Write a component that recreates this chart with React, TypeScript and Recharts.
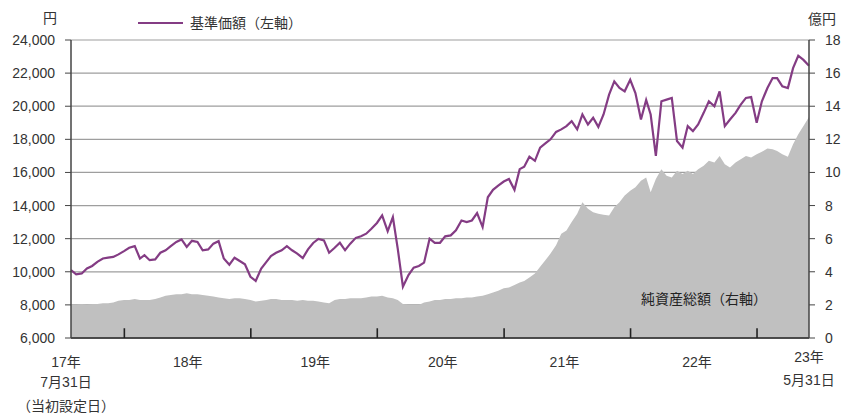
import React from "react";
import { ComposedChart, Line, Area, XAxis, YAxis, CartesianGrid } from "recharts";

const dates = [
  "2017-07-31","2017-08-15","2017-08-31","2017-09-15","2017-09-30","2017-10-15","2017-10-31","2017-11-15","2017-11-30","2017-12-15","2017-12-31",
  "2018-01-15","2018-01-31","2018-02-15","2018-02-28","2018-03-15","2018-03-31","2018-04-15","2018-04-30","2018-05-15","2018-05-31","2018-06-15","2018-06-30",
  "2018-07-15","2018-07-31","2018-08-15","2018-08-31","2018-09-15","2018-09-30","2018-10-15","2018-10-31","2018-11-15","2018-11-30","2018-12-15","2018-12-31",
  "2019-01-15","2019-01-31","2019-02-15","2019-02-28","2019-03-15","2019-03-31","2019-04-15","2019-04-30","2019-05-15","2019-05-31","2019-06-15","2019-06-30",
  "2019-07-15","2019-07-31","2019-08-15","2019-08-31","2019-09-15","2019-09-30","2019-10-15","2019-10-31","2019-11-15","2019-11-30","2019-12-15","2019-12-31",
  "2020-01-15","2020-01-31","2020-02-15","2020-02-29","2020-03-15","2020-03-31","2020-04-15","2020-04-30","2020-05-15","2020-05-31","2020-06-15","2020-06-30",
  "2020-07-15","2020-07-31","2020-08-15","2020-08-31","2020-09-15","2020-09-30","2020-10-15","2020-10-31","2020-11-15","2020-11-30","2020-12-15","2020-12-31",
  "2021-01-15","2021-01-31","2021-02-15","2021-02-28","2021-03-15","2021-03-31","2021-04-15","2021-04-30","2021-05-15","2021-05-31","2021-06-15","2021-06-30",
  "2021-07-15","2021-07-31","2021-08-15","2021-08-31","2021-09-15","2021-09-30","2021-10-15","2021-10-31","2021-11-15","2021-11-30","2021-12-15","2021-12-31",
  "2022-01-15","2022-01-31","2022-02-15","2022-02-28","2022-03-15","2022-03-31","2022-04-15","2022-04-30","2022-05-15","2022-05-31","2022-06-15","2022-06-30",
  "2022-07-15","2022-07-31","2022-08-15","2022-08-31","2022-09-15","2022-09-30","2022-10-15","2022-10-31","2022-11-15","2022-11-30","2022-12-15","2022-12-31",
  "2023-01-15","2023-01-31","2023-02-15","2023-02-28","2023-03-15","2023-03-31","2023-04-15","2023-04-30","2023-05-15","2023-05-31",
];

// 基準価額（円, 左軸）
const basePrice = [
  10100, 9850, 9900, 10200, 10350, 10600, 10800, 10850, 10900, 11050, 11250,
  11450, 11550, 10800, 11000, 10700, 10750, 11150, 11300, 11550, 11800, 11950, 11500,
  11870, 11800, 11300, 11350, 11700, 11850, 10800, 10430, 10850, 10650, 10450, 9700,
  9450, 10200, 10600, 10950, 11150, 11300, 11550, 11300, 11100, 10830, 11350, 11740,
  11980, 11900, 11150, 11450, 11750, 11300, 11700, 12050, 12150, 12300, 12600, 12950,
  13400, 12450, 13300, 11400, 9100, 9800, 10250, 10350, 10550, 12000, 11750, 11750,
  12140, 12200, 12500, 13100, 13000, 13100, 13550, 12700, 14500, 14950, 15200, 15450,
  15600, 14950, 16200, 16350, 16950, 16700, 17500, 17750, 18000, 18450, 18600, 18800,
  19100, 18600, 19500, 18900, 19300, 18750, 19500, 20700, 21500, 21100, 20900, 21600,
  20800, 19200, 20380, 19500, 17000, 20300, 20400, 20500, 17900, 17500, 18800, 18500,
  18900, 19600, 20300, 20000, 20900, 18800, 19200, 19600, 20100, 20500, 20550, 19000,
  20300, 21100, 21700, 21700, 21200, 21100, 22300, 23050, 22800, 22450,
];

// 純資産総額（億円, 右軸）
const netAssets = [
  2.0, 2.0, 2.05, 2.0, 2.05, 2.05, 2.1, 2.1, 2.15, 2.25, 2.3,
  2.3, 2.35, 2.3, 2.3, 2.3, 2.35, 2.45, 2.55, 2.6, 2.65, 2.65, 2.7,
  2.65, 2.65, 2.6, 2.55, 2.5, 2.45, 2.4, 2.35, 2.4, 2.4, 2.35, 2.3,
  2.2, 2.25, 2.3, 2.35, 2.35, 2.3, 2.3, 2.3, 2.25, 2.3, 2.25, 2.25,
  2.2, 2.15, 2.1, 2.3, 2.35, 2.35, 2.4, 2.4, 2.4, 2.45, 2.5, 2.5,
  2.55, 2.45, 2.4, 2.3, 2.05, 2.0, 2.0, 2.0, 2.15, 2.2, 2.3, 2.3,
  2.35, 2.35, 2.4, 2.4, 2.45, 2.45, 2.5, 2.55, 2.65, 2.75, 2.85, 3.0,
  3.05, 3.2, 3.35, 3.45, 3.65, 3.9, 4.3, 4.7, 5.1, 5.6, 6.3, 6.5,
  7.0, 7.5, 8.2, 7.8, 7.6, 7.5, 7.45, 7.4, 7.9, 8.2, 8.6, 8.9,
  9.1, 9.5, 9.7, 8.8, 9.6, 10.2, 9.8, 9.7, 10.1, 9.9, 10.1, 9.9,
  10.2, 10.4, 10.7, 10.6, 11.0, 10.5, 10.3, 10.6, 10.8, 11.0, 10.9, 11.1,
  11.25, 11.45, 11.4, 11.3, 11.1, 10.95, 11.7, 12.3, 12.8, 13.35,
];

const leftTicks = [6000, 8000, 10000, 12000, 14000, 16000, 18000, 20000, 22000, 24000];
const rightTicks = [0, 2, 4, 6, 8, 10, 12, 14, 16, 18];

// year boundaries (tick marks)
const yearBoundaries = ["2018-01-01", "2019-01-01", "2020-01-01", "2021-01-01", "2022-01-01", "2023-01-01"];
// x-axis labels
const xLabelDates = ["2017-07-31", "2018-07-03", "2019-07-06", "2020-07-08", "2021-06-24", "2022-07-12", "2023-05-31"];
const xLabelLines = [
  ["17年", "7月31日", "（当初設定日）"],
  ["18年"],
  ["19年"],
  ["20年"],
  ["21年"],
  ["22年"],
  ["23年", "5月31日"],
];

const seriesNames = { price: "基準価額（左軸）", nav: "純資産総額（右軸）" };

const toT = (s: string) => {
  const [y, m, d] = s.split("-").map(Number);
  return Date.UTC(y, m - 1, d);
};

const leftMin = leftTicks[0];
const leftMax = leftTicks[leftTicks.length - 1];
// inward year tick mark length, as a fraction of the left axis range
const tickMarkLen = (leftMax - leftMin) * 0.033;

const mainRows: any[] = dates.map((d, i) => ({ t: toT(d), price: basePrice[i], nav: netAssets[i] }));
// two rows per year boundary form a short vertical tick on the x axis
const tickRows: any[] = [];
yearBoundaries.forEach((d) => {
  const t = toT(d);
  tickRows.push({ t, tick: leftMin });
  tickRows.push({ t, tick: leftMin + tickMarkLen });
});
const data = [...mainRows, ...tickRows].sort((a, b) => a.t - b.t);

const tStart = toT(dates[0]);
const tEnd = toT(dates[dates.length - 1]);
const labelTs = xLabelDates.map(toT);

const FONT = "'Liberation Sans', 'Noto Sans CJK JP', Arial, sans-serif";
const TEXT = "#333";
const PURPLE = "#843c84";
const GRAY = "#c0c0c0";

const XTick = (props: any) => {
  const { x, y, payload } = props;
  const v = payload.value;
  const li = labelTs.indexOf(v);
  if (li < 0) return <g />;
  const lines = xLabelLines[li];
  const isStart = li === 0;
  const isEnd = li === xLabelLines.length - 1;
  const cx = isStart ? x - 5 : x;
  const dys = isEnd ? [24, 23] : isStart ? [29, 20, 24] : [29];
  return (
    <text x={cx} y={y} textAnchor="middle" fontSize={14} fill={TEXT} fontFamily={FONT}>
      {lines.map((l, i) => (
        <tspan key={i} x={cx} dy={dys[i]}>
          {l}
        </tspan>
      ))}
    </text>
  );
};

export default function App() {
  return (
    <div
      style={{
        position: "absolute",
        left: 0,
        top: 0,
        width: 842,
        height: 416,
        background: "#fff",
        fontFamily: FONT,
        color: TEXT,
      }}
    >
      <ComposedChart width={842} height={416} data={data} margin={{ top: 40, right: 0, bottom: 0, left: 0 }}>
        <CartesianGrid yAxisId="left" vertical={false} stroke="#9e9e9e" strokeWidth={1.2} />
        <XAxis
          dataKey="t"
          type="number"
          domain={[tStart, tEnd]}
          ticks={labelTs}
          interval={0}
          tickLine={false}
          tickSize={0}
          tickMargin={0}
          height={78}
          axisLine={{ stroke: "#222", strokeWidth: 1.5 }}
          tick={<XTick />}
        />
        <YAxis
          yAxisId="left"
          domain={[leftMin, leftMax]}
          ticks={leftTicks}
          interval={0}
          width={71}
          tickSize={6}
          tickMargin={10}
          tickFormatter={(v: number) => v.toLocaleString("en-US")}
          tick={{ fontSize: 14, fill: TEXT }}
          axisLine={{ stroke: "#444", strokeWidth: 1.5 }}
          tickLine={{ stroke: "#444" }}
        />
        <YAxis
          yAxisId="right"
          orientation="right"
          domain={[0, 18]}
          ticks={rightTicks}
          interval={0}
          width={33}
          tickSize={6}
          tickMargin={10}
          tick={{ fontSize: 14, fill: TEXT, textAnchor: "start" }}
          axisLine={{ stroke: "#444", strokeWidth: 1.5 }}
          tickLine={{ stroke: "#444" }}
        />
        <Area
          yAxisId="right"
          type="linear"
          dataKey="nav"
          name={seriesNames.nav}
          fill={GRAY}
          fillOpacity={1}
          stroke="none"
          connectNulls
          isAnimationActive={false}
        />
        <Line
          yAxisId="left"
          type="linear"
          dataKey="price"
          name={seriesNames.price}
          stroke={PURPLE}
          strokeWidth={2.2}
          dot={false}
          connectNulls
          isAnimationActive={false}
        />
        <Line
          yAxisId="left"
          type="linear"
          dataKey="tick"
          stroke="#222"
          strokeWidth={1.6}
          dot={false}
          connectNulls={false}
          legendType="none"
          isAnimationActive={false}
        />
      </ComposedChart>

      {/* unit labels */}
      <div style={{ position: "absolute", left: 43, top: 9, fontSize: 14, lineHeight: "18px" }}>円</div>
      <div style={{ position: "absolute", left: 808, top: 10, fontSize: 14, lineHeight: "18px" }}>億円</div>

      {/* legend */}
      <div style={{ position: "absolute", left: 138, top: 14, height: 18, display: "flex", alignItems: "center", fontSize: 14 }}>
        <svg width={46} height={18} style={{ display: "block" }}>
          <line x1={0} x2={45} y1={9} y2={9} stroke={PURPLE} strokeWidth={2} />
        </svg>
        <span style={{ marginLeft: 6, lineHeight: "18px" }}>{seriesNames.price}</span>
      </div>

      {/* net assets label inside plot */}
      <div style={{ position: "absolute", left: 641, top: 290, fontSize: 14, lineHeight: "18px", color: "#222" }}>
        {seriesNames.nav}
      </div>
    </div>
  );
}
